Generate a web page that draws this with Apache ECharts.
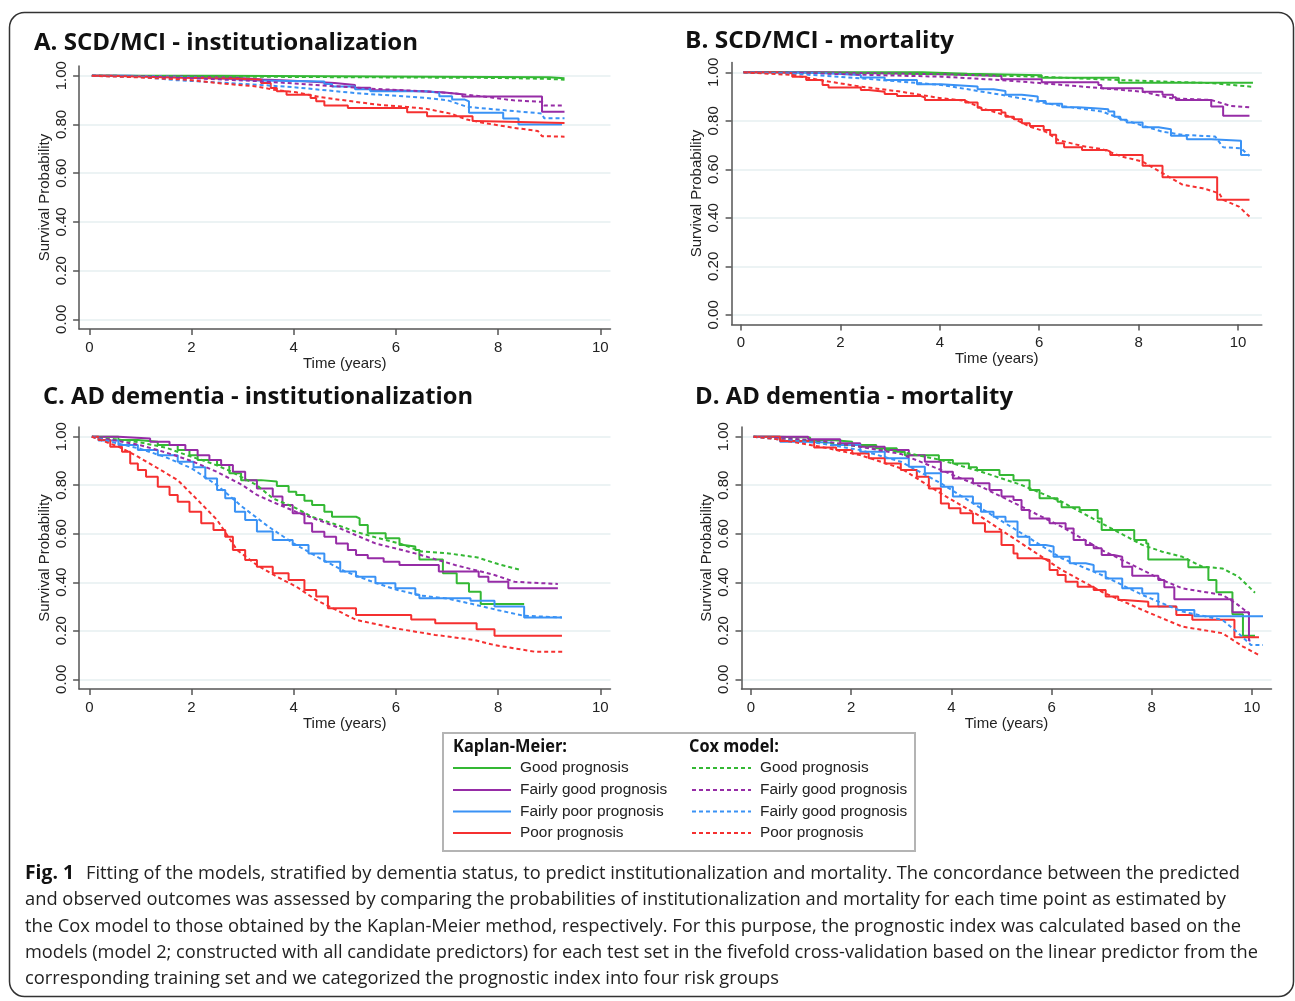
<!DOCTYPE html>
<html>
<head>
<meta charset="utf-8">
<script src="https://cdn.jsdelivr.net/npm/echarts@6/dist/echarts.min.js"></script>
<style>
html,body{margin:0;padding:0;background:#fff;}
#chart{width:1295px;height:1001px;}
</style>
</head>
<body>
<div id="chart"></div>
<script>
// ---------------- DATA ----------------
const X_TICKS = [0, 2, 4, 6, 8, 10];
const Y_TICKS = [0, 0.2, 0.4, 0.6, 0.8, 1.0];
const PANEL_TITLES = ['A. SCD/MCI - institutionalization', 'B. SCD/MCI - mortality',
  'C. AD dementia - institutionalization', 'D. AD dementia - mortality'];
const GROUPS = ['Good prognosis', 'Fairly good prognosis', 'Fairly poor prognosis', 'Poor prognosis'];
const COX_LEGEND = ['Good prognosis', 'Fairly good prognosis', 'Fairly good prognosis', 'Poor prognosis'];

// Panel A: SCD/MCI - institutionalization  [time, survival]
const A_KM_GOOD = [[0.05,1],[2.48,0.994],[9.0,0.99],[9.3,0.99]];
const A_COX_GOOD = [[0.05,1],[2,0.998],[4,0.995],[6,0.993],[8,0.991],[9,0.987],[9.3,0.984]];
const A_KM_FGOOD = [[0.05,1],[0.5,0.997],[1.8,0.993],[2.8,0.985],[3.4,0.977],[4.2,0.97],[4.8,0.962],[5.2,0.951],[5.5,0.94],[6.0,0.932],[6.9,0.924],[7.3,0.915],[8.86,0.852],[9.3,0.852]];
const A_COX_FGOOD = [[0.05,1],[1,0.997],[2,0.99],[3.3,0.978],[4.8,0.957],[5.6,0.946],[6.6,0.936],[7.15,0.927],[7.9,0.91],[8.3,0.899],[8.86,0.893],[8.9,0.878],[9.3,0.878]];
const A_KM_FPOOR = [[0.05,1],[0.8,0.996],[1.7,0.988],[2.7,0.98],[3.3,0.976],[4.6,0.966],[4.75,0.956],[5.2,0.945],[5.5,0.936],[6.6,0.93],[6.85,0.916],[7.1,0.902],[7.35,0.895],[7.43,0.848],[8.1,0.824],[8.4,0.8],[9.25,0.8]];
const A_COX_FPOOR = [[0.05,1],[1,0.995],[1.7,0.982],[3.3,0.963],[4.05,0.952],[5.2,0.929],[6.6,0.909],[7.0,0.9],[7.4,0.872],[8.3,0.855],[8.86,0.845],[8.9,0.826],[9.3,0.826]];
const A_KM_POOR = [[0.05,1],[0.4,0.992],[1.8,0.989],[2.7,0.984],[3.36,0.97],[3.55,0.95],[3.67,0.936],[3.86,0.922],[4.33,0.909],[4.44,0.895],[4.6,0.878],[5.06,0.868],[6.22,0.85],[6.61,0.834],[7.5,0.814],[7.55,0.806],[9.3,0.806]];
const A_COX_POOR = [[0.05,1],[1,0.993],[1.88,0.984],[2.66,0.967],[3.28,0.956],[3.59,0.943],[4.05,0.932],[4.52,0.912],[5.14,0.895],[5.6,0.882],[6.22,0.872],[6.6,0.864],[7.08,0.844],[7.39,0.82],[7.78,0.804],[8.32,0.786],[8.78,0.773],[8.86,0.752],[9.3,0.75]];

// Panel B: SCD/MCI - mortality
const B_KM_GOOD = [[0.05,1],[3.65,0.994],[4.55,0.988],[6.05,0.978],[7.6,0.957],[10.3,0.957]];
const B_COX_GOOD = [[0.05,1],[2,0.997],[4,0.992],[6,0.982],[7.6,0.968],[8.5,0.962],[9.5,0.955],[10.3,0.94]];
const B_KM_FGOOD = [[0.05,1],[1.5,0.997],[2.4,0.992],[4.03,0.985],[5.24,0.971],[6.05,0.959],[7.19,0.948],[7.25,0.934],[8.08,0.92],[8.48,0.907],[8.69,0.897],[8.75,0.886],[9.46,0.859],[9.7,0.821],[10.23,0.821]];
const B_COX_FGOOD = [[0.05,1],[1.5,0.996],[2.4,0.99],[4.03,0.982],[5.24,0.968],[6.05,0.955],[7.27,0.934],[8.08,0.92],[8.65,0.893],[9.46,0.886],[9.86,0.861],[10.23,0.856]];
const B_KM_FPOOR = [[0.05,1],[0.8,0.997],[1.6,0.989],[2.41,0.979],[2.89,0.968],[3.54,0.951],[4.03,0.945],[4.51,0.941],[4.76,0.93],[5.08,0.923],[5.32,0.907],[5.65,0.9],[5.97,0.882],[6.13,0.87],[6.46,0.856],[6.78,0.852],[7.11,0.848],[7.39,0.838],[7.51,0.817],[7.63,0.804],[7.76,0.793],[8.08,0.773],[8.4,0.765],[8.65,0.738],[8.97,0.724],[9.46,0.718],[10.06,0.659],[10.23,0.659]];
const B_COX_FPOOR = [[0.05,1],[1,0.995],[2.41,0.975],[4.03,0.948],[5.24,0.907],[6.46,0.861],[7.27,0.838],[7.67,0.806],[8.48,0.755],[8.89,0.742],[9.54,0.735],[9.7,0.691],[10.06,0.687],[10.23,0.655]];
const B_KM_POOR = [[0.05,1],[0.79,0.996],[1.03,0.982],[1.31,0.968],[1.64,0.948],[1.76,0.937],[2.41,0.927],[2.57,0.92],[2.89,0.911],[3.14,0.902],[3.62,0.896],[3.7,0.886],[4.51,0.875],[4.76,0.854],[4.84,0.845],[5.24,0.834],[5.32,0.817],[5.49,0.806],[5.65,0.79],[5.81,0.779],[6.09,0.762],[6.22,0.742],[6.34,0.707],[6.5,0.691],[6.86,0.68],[7.35,0.673],[7.43,0.659],[8.08,0.615],[8.48,0.567],[9.58,0.474],[10.23,0.474]];
const B_COX_POOR = [[0.05,1],[1.03,0.989],[1.76,0.962],[2.41,0.941],[3.22,0.92],[4.03,0.893],[4.51,0.883],[4.84,0.852],[5.41,0.817],[5.81,0.776],[6.13,0.755],[6.38,0.721],[6.86,0.696],[7.27,0.683],[7.67,0.652],[8.08,0.632],[8.48,0.584],[8.89,0.536],[9.29,0.522],[9.62,0.501],[9.7,0.474],[10.02,0.446],[10.23,0.405]];

// Panel C: AD dementia - institutionalization
const C_KM_GOOD = [[0.05,1],[0.57,0.986],[0.95,0.979],[1.34,0.966],[1.73,0.945],[1.96,0.924],[2.12,0.904],[2.5,0.883],[2.74,0.849],[2.97,0.821],[3.36,0.815],[3.67,0.797],[3.9,0.773],[4.05,0.76],[4.21,0.736],[4.36,0.718],[4.6,0.691],[4.75,0.67],[5.22,0.663],[5.29,0.636],[5.45,0.602],[5.8,0.581],[6.07,0.554],[6.15,0.547],[6.38,0.533],[6.46,0.494],[6.92,0.437],[7.19,0.396],[7.43,0.361],[7.66,0.31],[8.51,0.31]];
const C_COX_GOOD = [[0.05,1],[0.5,0.99],[0.95,0.978],[1.5,0.955],[1.96,0.92],[2.4,0.89],[2.74,0.86],[3.28,0.8],[3.59,0.746],[4.0,0.71],[4.36,0.67],[4.8,0.64],[5.22,0.608],[5.6,0.585],[6.07,0.56],[6.5,0.527],[7.0,0.52],[7.6,0.502],[8.0,0.475],[8.45,0.45]];
const C_KM_FGOOD = [[0.05,1],[0.57,0.993],[1.19,0.979],[1.57,0.966],[1.88,0.945],[2.12,0.924],[2.35,0.904],[2.58,0.883],[2.81,0.856],[3.05,0.821],[3.28,0.787],[3.59,0.753],[3.78,0.718],[3.98,0.684],[4.21,0.643],[4.36,0.608],[4.6,0.588],[4.83,0.56],[5.06,0.533],[5.22,0.512],[5.45,0.499],[5.76,0.485],[6.07,0.471],[6.84,0.444],[7.62,0.423],[7.81,0.402],[8.2,0.375],[9.17,0.375]];
const C_COX_FGOOD = [[0.05,1],[0.5,0.985],[1.0,0.965],[1.5,0.935],[2.0,0.9],[2.5,0.855],[3.0,0.8],[3.28,0.76],[3.6,0.73],[4.05,0.69],[4.83,0.629],[5.6,0.56],[6.38,0.519],[7.16,0.471],[7.93,0.43],[8.32,0.402],[9.17,0.393]];
const C_KM_FPOOR = [[0.05,1],[0.18,0.984],[0.57,0.966],[0.95,0.945],[1.34,0.924],[1.73,0.897],[2.04,0.874],[2.27,0.828],[2.5,0.78],[2.66,0.746],[2.85,0.691],[3.05,0.657],[3.28,0.609],[3.59,0.574],[3.98,0.554],[4.29,0.519],[4.6,0.485],[4.91,0.444],[5.22,0.423],[5.6,0.396],[5.99,0.375],[6.38,0.348],[6.46,0.334],[7.46,0.324],[7.93,0.3],[8.51,0.255],[9.25,0.255]];
const C_COX_FPOOR = [[0.05,1],[0.5,0.975],[1,0.95],[1.5,0.915],[2,0.87],[2.5,0.8],[3,0.71],[3.5,0.63],[4,0.56],[4.5,0.5],[5,0.445],[5.5,0.405],[6,0.37],[6.5,0.345],[7,0.333],[7.5,0.31],[8,0.285],[8.5,0.262],[9.25,0.255]];
const C_KM_POOR = [[0.05,1],[0.18,0.986],[0.41,0.959],[0.64,0.938],[0.8,0.89],[0.95,0.863],[1.11,0.835],[1.34,0.794],[1.57,0.76],[1.73,0.732],[1.96,0.691],[2.19,0.643],[2.43,0.615],[2.66,0.588],[2.81,0.533],[3.05,0.492],[3.28,0.464],[3.59,0.437],[3.9,0.409],[4.21,0.368],[4.44,0.341],[4.67,0.293],[5.22,0.265],[6.3,0.247],[6.77,0.231],[7.58,0.206],[7.93,0.18],[9.25,0.18]];
const C_COX_POOR = [[0.05,1],[0.57,0.959],[0.95,0.918],[1.34,0.87],[1.73,0.821],[2.12,0.739],[2.5,0.657],[2.89,0.533],[3.28,0.471],[3.67,0.423],[4.05,0.382],[4.44,0.327],[4.83,0.286],[5.22,0.245],[5.99,0.21],[6.77,0.183],[7.54,0.162],[7.93,0.141],[8.71,0.114],[9.29,0.113]];

// Panel D: AD dementia - mortality
const D_KM_GOOD = [[0.05,1],[0.5,0.997],[1.18,0.986],[1.62,0.979],[2.02,0.966],[2.5,0.952],[2.91,0.938],[3.07,0.924],[3.75,0.904],[4.03,0.89],[4.35,0.874],[4.51,0.863],[4.96,0.842],[5.24,0.821],[5.56,0.78],[5.76,0.746],[6.12,0.732],[6.2,0.709],[6.56,0.698],[6.92,0.663],[7.0,0.615],[7.65,0.574],[7.89,0.56],[7.93,0.494],[8.73,0.462],[9.13,0.409],[9.29,0.359],[9.61,0.268],[9.82,0.179],[10.06,0.179]];
const D_COX_GOOD = [[0.05,1],[0.5,0.995],[1.38,0.979],[2.18,0.959],[2.99,0.938],[3.79,0.904],[4.59,0.856],[5.4,0.801],[6.2,0.732],[7.0,0.643],[7.81,0.554],[8.21,0.526],[8.61,0.505],[9.01,0.464],[9.41,0.457],[9.73,0.423],[10.06,0.357]];
const D_KM_FGOOD = [[0.05,1],[1.14,0.989],[1.78,0.973],[2.18,0.959],[2.67,0.945],[3.15,0.924],[3.47,0.897],[3.79,0.856],[4.03,0.828],[4.43,0.808],[4.76,0.78],[5.0,0.753],[5.24,0.739],[5.4,0.698],[5.56,0.663],[5.96,0.643],[6.28,0.622],[6.44,0.574],[6.68,0.554],[6.84,0.54],[7.0,0.512],[7.24,0.505],[7.41,0.464],[7.61,0.427],[8.13,0.409],[8.25,0.379],[8.45,0.33],[9.61,0.276],[9.94,0.16],[9.97,0.16]];
const D_COX_FGOOD = [[0.05,1],[0.5,0.995],[1.38,0.984],[2.18,0.959],[2.99,0.929],[3.79,0.863],[4.59,0.794],[5.4,0.712],[6.2,0.629],[7.0,0.533],[7.81,0.451],[8.21,0.409],[8.61,0.375],[9.41,0.348],[9.7,0.31],[9.95,0.27]];
const D_KM_FPOOR = [[0.05,1],[0.58,0.979],[1.14,0.975],[1.62,0.966],[2.18,0.938],[2.67,0.911],[3.15,0.876],[3.47,0.849],[3.79,0.794],[4.03,0.753],[4.43,0.725],[4.59,0.691],[4.84,0.67],[5.08,0.65],[5.32,0.588],[5.56,0.554],[5.88,0.547],[6.04,0.505],[6.36,0.478],[6.68,0.471],[6.84,0.444],[7.08,0.416],[7.41,0.375],[7.81,0.354],[8.13,0.3],[8.49,0.286],[8.85,0.26],[10.22,0.26]];
const D_COX_FPOOR = [[0.05,1],[0.5,0.99],[1.38,0.973],[2.18,0.945],[2.99,0.897],[3.79,0.808],[4.59,0.705],[5.4,0.602],[6.2,0.499],[7.0,0.43],[7.81,0.348],[8.61,0.279],[9.41,0.245],[9.73,0.19],[9.98,0.141],[10.22,0.141]];
const D_KM_POOR = [[0.05,1],[0.58,0.982],[1.26,0.955],[1.7,0.945],[2.02,0.931],[2.35,0.911],[2.67,0.89],[2.99,0.863],[3.31,0.835],[3.55,0.787],[3.79,0.725],[3.95,0.705],[4.18,0.684],[4.43,0.643],[4.67,0.608],[5.0,0.554],[5.24,0.519],[5.32,0.499],[5.8,0.492],[5.96,0.451],[6.12,0.43],[6.28,0.402],[6.52,0.382],[6.84,0.368],[7.08,0.341],[7.33,0.327],[7.45,0.32],[7.93,0.3],[8.49,0.265],[8.81,0.245],[9.65,0.173],[10.14,0.173]];
const D_COX_POOR = [[0.05,1],[0.5,0.99],[1.38,0.959],[2.18,0.924],[2.99,0.87],[3.79,0.766],[4.59,0.67],[5.4,0.56],[6.2,0.451],[7.0,0.361],[7.81,0.286],[8.61,0.217],[9.41,0.19],[9.82,0.135],[10.14,0.1]];

const CAPTION_BOLD = 'Fig. 1';
const CAPTION_LINES = [
  'Fitting of the models, stratified by dementia status, to predict institutionalization and mortality. The concordance between the predicted',
  'and observed outcomes was assessed by comparing the probabilities of institutionalization and mortality for each time point as estimated by',
  'the Cox model to those obtained by the Kaplan-Meier method, respectively. For this purpose, the prognostic index was calculated based on the',
  'models (model 2; constructed with all candidate predictors) for each test set in the fivefold cross-validation based on the linear predictor from the',
  'corresponding training set and we categorized the prognostic index into four risk groups'
];

// ---------------- LAYOUT / STYLE ----------------
const COLORS = ['#34b834', '#962ca6', '#3a92f5', '#f53030'];
const PANELS = [
  {km:[A_KM_GOOD,A_KM_FGOOD,A_KM_FPOOR,A_KM_POOR], cox:[A_COX_GOOD,A_COX_FGOOD,A_COX_FPOOR,A_COX_POOR],
   grid:{left:79.1, top:66, width:531.4, height:263.1}, xr:[-0.2,10.2], title:{x:34, y:43, w:384}},
  {km:[B_KM_GOOD,B_KM_FGOOD,B_KM_FPOOR,B_KM_POOR], cox:[B_COX_GOOD,B_COX_FGOOD,B_COX_FPOOR,B_COX_POOR],
   grid:{left:731.6, top:62.6, width:530.3, height:261.9}, xr:[-0.19,10.48], title:{x:685, y:41, w:269}},
  {km:[C_KM_GOOD,C_KM_FGOOD,C_KM_FPOOR,C_KM_POOR], cox:[C_COX_GOOD,C_COX_FGOOD,C_COX_FPOOR,C_COX_POOR],
   grid:{left:79.1, top:427, width:531.4, height:262}, xr:[-0.2,10.2], title:{x:43, y:397, w:430}},
  {km:[D_KM_GOOD,D_KM_FGOOD,D_KM_FPOOR,D_KM_POOR], cox:[D_COX_GOOD,D_COX_FGOOD,D_COX_FPOOR,D_COX_POOR],
   grid:{left:741.5, top:427, width:530, height:262}, xr:[-0.19,10.39], title:{x:695, y:397, w:318}}
];
const YR = [-0.04, 1.04];
const AX = '#555';
const LBL = {fontFamily:'Liberation Sans, Arial, sans-serif', fontSize:15, color:'#222'};
const DASH = [4, 3];

const mctx = document.createElement('canvas').getContext('2d');
function fitText(text, x, y, targetW, font, fill) {
  mctx.font = font;
  const w = mctx.measureText(text).width;
  return {type:'text', x:x, y:y, scaleX: targetW / w, silent:true,
    style:{text:text, font:font, fill:fill || '#111', align:'left', verticalAlign:'middle'}};
}

const grids = [], xAxes = [], yAxes = [], series = [];
PANELS.forEach((p, i) => {
  grids.push(Object.assign({}, p.grid));
  xAxes.push({
    type:'value', gridIndex:i, min:p.xr[0], max:p.xr[1],
    name:'Time (years)', nameLocation:'middle', nameGap:26,
    nameTextStyle:Object.assign({}, LBL),
    axisLine:{show:true, onZero:false, lineStyle:{color:AX, width:1.5}},
    axisTick:{show:true, length:6, lineStyle:{color:AX, width:1.5}, customValues:X_TICKS},
    axisLabel:Object.assign({margin:11, customValues:X_TICKS, formatter:v => String(v)}, LBL),
    splitLine:{show:false}
  });
  yAxes.push({
    type:'value', gridIndex:i, min:YR[0], max:YR[1],
    name:'Survival Probability', nameLocation:'middle', nameGap:27,
    nameTextStyle:Object.assign({}, LBL),
    axisLine:{show:true, onZero:false, lineStyle:{color:AX, width:1.5}},
    axisTick:{show:true, length:6, lineStyle:{color:AX, width:1.5}, customValues:Y_TICKS},
    axisLabel:Object.assign({margin:10, rotate:90, customValues:Y_TICKS, formatter:v => v.toFixed(2)}, LBL),
    splitLine:{show:true, lineStyle:{color:'#e6eff1', width:1.5}}
  });
  p.km.forEach((d, g) => series.push({
    type:'line', name:'KM ' + GROUPS[g], xAxisIndex:i, yAxisIndex:i, data:d, step:'end',
    showSymbol:false, symbol:'none', lineStyle:{color:COLORS[g], width:2}, itemStyle:{color:COLORS[g]},
    z:3, animation:false, silent:true
  }));
  p.cox.forEach((d, g) => series.push({
    type:'line', name:'Cox ' + GROUPS[g], xAxisIndex:i, yAxisIndex:i, data:d,
    showSymbol:false, symbol:'none', lineStyle:{color:COLORS[g], width:2, type:DASH}, itemStyle:{color:COLORS[g]},
    z:4, animation:false, silent:true
  }));
});

// graphic: frame, titles, legend, caption
const G = [];
G.push({type:'rect', silent:true, shape:{x:9.5, y:12.5, width:1284, height:984, r:15},
  style:{fill:'none', stroke:'#333', lineWidth:1.5}});
PANELS.forEach((p, i) => G.push(fitText(PANEL_TITLES[i], p.title.x, p.title.y, p.title.w,
  "bold 24px 'Open Sans'", '#111')));

// legend
G.push({type:'rect', silent:true, shape:{x:443, y:733, width:472, height:118},
  style:{fill:'#fff', stroke:'#b4b4b4', lineWidth:2}});
G.push(fitText('Kaplan-Meier:', 453, 747, 114, "bold 17px 'Open Sans'", '#111'));
G.push(fitText('Cox model:', 689, 747, 90, "bold 17px 'Open Sans'", '#111'));
const ROWS = [768, 790, 811.5, 833];
GROUPS.forEach((g, k) => {
  G.push({type:'line', silent:true, shape:{x1:453, y1:ROWS[k], x2:511, y2:ROWS[k]},
    style:{stroke:COLORS[k], lineWidth:2}});
  G.push({type:'text', silent:true, x:520, y:ROWS[k],
    style:{text:g, font:"15.4px 'Liberation Sans'", fill:'#222', align:'left', verticalAlign:'middle'}});
  G.push({type:'line', silent:true, shape:{x1:692, y1:ROWS[k], x2:751, y2:ROWS[k]},
    style:{stroke:COLORS[k], lineWidth:2, lineDash:DASH}});
  G.push({type:'text', silent:true, x:760, y:ROWS[k],
    style:{text:COX_LEGEND[k], font:"15.4px 'Liberation Sans'", fill:'#222', align:'left', verticalAlign:'middle'}});
});

// caption
const CAP_Y = [874, 900, 926.5, 953, 979];
const CAP_X = [86, 25, 25, 25, 25];
const CAP_END = [1240, 1226, 1241, 1258, 779];
G.push(fitText(CAPTION_BOLD, 25, CAP_Y[0], 49, "bold 19px 'Open Sans'", '#111'));
CAPTION_LINES.forEach((t, k) => G.push(fitText(t, CAP_X[k], CAP_Y[k], CAP_END[k] - CAP_X[k],
  "19px 'Open Sans'", '#222')));

const chart = echarts.init(document.getElementById('chart'), null, {renderer:'canvas'});
chart.setOption({
  backgroundColor:'#fff',
  animation:false,
  grid:grids, xAxis:xAxes, yAxis:yAxes, series:series,
  graphic:{elements:G}
});
</script>
</body>
</html>
